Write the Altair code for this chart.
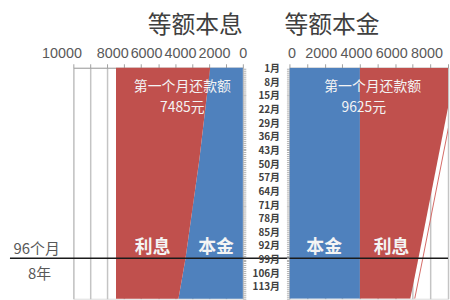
import altair as alt
import pandas as pd

CJK = "Noto Sans CJK SC"
RED = "#C0504D"
BLUE = "#4F81BD"

# ---- data ----
# left panel: 等额本息 (equal installments)
left_months = [0.5, 47.9, 98.8, 119.1]
left_principal = [1930, 2570, 3390, 3800]
left_total = [7485, 7485, 7485, 7485]

# right panel: 等额本金 (equal principal)
right_months = [0.5, 20.9, 98.8, 119.1]
right_principal = [4000, 4000, 4000, 4000]
right_total = [9440, 9000, 7310, 6860]

marker_month = 98.3
month_ticks = list(range(1, 120))
x_ticks = list(range(0, 10001, 1000))

left_df = pd.DataFrame({"month": left_months, "zero": [0] * 4,
                        "p": left_principal, "t": left_total})
right_df = pd.DataFrame({"month": right_months, "zero": [0] * 4,
                         "p": right_principal, "t": right_total,
                         "edge": [v + 250 for v in right_total]})

Y_SCALE = alt.Scale(domain=[0.5, 119.1], reverse=True, nice=False, zero=False)


def x_enc(field, side):
    if side == "left":
        sc = alt.Scale(domain=[0, 10000], reverse=True, nice=False)
        off = {"condition": [{"test": "datum.value == 10000", "value": -12},
                             {"test": "datum.value == 0", "value": 0}],
               "value": 5}
    else:
        sc = alt.Scale(domain=[0, 9000], nice=False)
        off = {"condition": {"test": "datum.value == 0", "value": 2},
               "value": -4}
    return alt.X(field, type="quantitative", scale=sc, title=None,
                 axis=alt.Axis(orient="top", values=x_ticks, format="d",
                               labelExpr="datum.value % 2000 == 0 ? datum.label : ''",
                               labelFont="Liberation Sans", labelFontSize=14.5,
                               labelColor="#595959", labelPadding=3,
                               labelOffset=off,
                               tickColor="#a0a0a0", tickSize=4, domainColor="#a0a0a0",
                               grid=True, gridColor="#c4c4c4", gridWidth=1.5,
                               labelOverlap=False, labelFlush=False))


def y_enc(side):
    if side == "left":
        ax = alt.Axis(orient="right", values=month_ticks, labels=False, tickSize=3,
                      tickColor="#b0b0b0", domain=False, grid=False)
    else:
        ax = alt.Axis(orient="left", values=month_ticks, tickSize=3,
                      tickColor="#b0b0b0", domain=False, grid=False,
                      labelExpr="(datum.value - 1) % 7 == 0 ? datum.value + '月' : ''",
                      labelFont=CJK, labelFontSize=10, labelFontWeight="bold",
                      labelColor="#404040", labelPadding=7, labelOverlap=False,
                      labelFlush=False)
    return alt.Y("month:Q", scale=Y_SCALE, title=None, axis=ax)


def texts(rows, side, size, color, weight):
    df = pd.DataFrame(rows, columns=["label", "x", "month"])
    return alt.Chart(df).mark_text(font=CJK, fontSize=size, color=color,
                                   fontWeight=weight, baseline="middle").encode(
        x=x_enc("x", side), y=y_enc(side), text="label:N")


# ---- left chart ----
l_blue = alt.Chart(left_df).mark_area(orient="horizontal", color=BLUE).encode(
    y=y_enc("left"), x=x_enc("zero", "left"), x2="p")
l_red = alt.Chart(left_df).mark_area(orient="horizontal", color=RED).encode(
    y=y_enc("left"), x=x_enc("p", "left"), x2="t")
l_rule_df = pd.DataFrame({"x": [13740], "x2": [-2750], "month": [marker_month]})
l_rule = alt.Chart(l_rule_df).mark_rule(color="#1a1a1a", strokeWidth=1.5).encode(
    x=x_enc("x", "left"), x2="x2", y=y_enc("left"))
l_t1 = texts([["第一个月还款额", 3570, 10.4], ["7485元", 3570, 21.3]], "left", 14, "#f4f4f4", "normal")
l_t2 = texts([["利息", 5320, 93.0], ["本金", 1580, 93.0]], "left", 18, "#f4f4f4", "bold")
l_t3 = texts([["96个月", 12164, 93.5], ["8年", 11990, 106.4]], "left", 15, "#595959", "normal")

left = alt.layer(l_blue, l_red, l_rule, l_t1, l_t2, l_t3).properties(
    width=171, height=233,
    title=alt.TitleParams("等额本息", anchor="end", frame="group", font=CJK,
                          fontSize=24, fontWeight="normal", color="#404040",
                          offset=8))

# ---- right chart ----
r_blue = alt.Chart(right_df).mark_area(orient="horizontal", color=BLUE, clip=True).encode(
    y=y_enc("right"), x=x_enc("zero", "right"), x2="p")
r_red = alt.Chart(right_df).mark_area(orient="horizontal", color=RED, clip=True).encode(
    y=y_enc("right"), x=x_enc("p", "right"), x2="t")
r_edge = alt.Chart(right_df).mark_line(color="#d46a66", strokeWidth=1, clip=True, orient="horizontal").encode(
    y=y_enc("right"), x=x_enc("edge", "right"), order="month:Q")
r_rule_df = pd.DataFrame({"x": [0], "x2": [9000], "month": [marker_month]})
r_rule = alt.Chart(r_rule_df).mark_rule(color="#1a1a1a", strokeWidth=1.5).encode(
    x=x_enc("x", "right"), x2="x2", y=y_enc("right"))
r_t1 = texts([["第一个月还款额", 4725, 10.4], ["9625元", 4220, 21.3]], "right", 14, "#f4f4f4", "normal")
r_t2 = texts([["本金", 1970, 93.0], ["利息", 5795, 93.0]], "right", 18, "#f4f4f4", "bold")

right = alt.layer(r_blue, r_red, r_edge, r_rule, r_t1, r_t2).properties(
    width=160, height=233,
    title=alt.TitleParams("等额本金", anchor="start", frame="group", font=CJK,
                          fontSize=24, fontWeight="normal", color="#404040",
                          offset=8, dx=-5))

chart = alt.hconcat(left, right, spacing=47, bounds="flush").properties(
    padding={"left": 8, "top": 12, "right": 0, "bottom": 0}
).configure_view(strokeWidth=0).configure(background="white")

chart.save("out.html", embed_options={"renderer": "svg", "actions": False})
